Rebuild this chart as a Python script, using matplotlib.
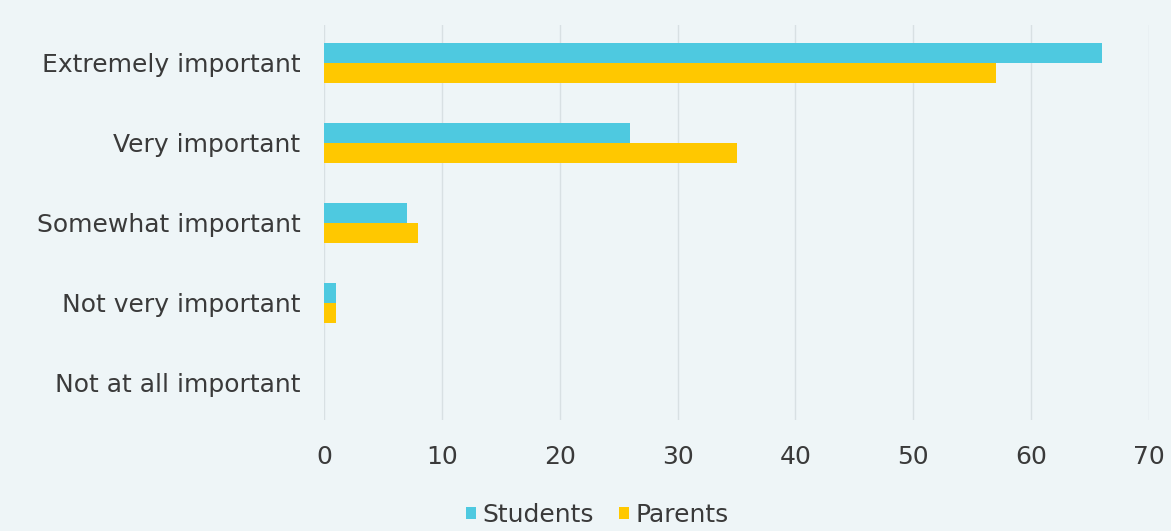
import numpy as np
import matplotlib
matplotlib.use("Agg")
from matplotlib import pyplot as plt

categories = ["Extremely important", "Very important", "Somewhat important",
              "Not very important", "Not at all important"]
students = [66, 26, 7, 1, 0]
parents = [57, 35, 8, 1, 0]
xticks = [0, 10, 20, 30, 40, 50, 60, 70]

bg = "#eef5f7"
cyan = "#4ec9e0"
yellow = "#ffc800"
text_col = "#3a3a3a"

plt.rcParams['font.family'] = ['DejaVu Sans']

fig = plt.figure(figsize=(11.71, 5.31), dpi=100, facecolor=bg)
ax = fig.add_axes([0.2767, 0.209, 0.7045, 0.744], facecolor=bg)

y = np.arange(len(categories))
h = 0.25
ax.barh(y - h / 2, students, height=h, color=cyan, label="Students", zorder=3)
ax.barh(y + h / 2, parents, height=h, color=yellow, label="Parents", zorder=3)

ax.set_xlim(0, 70)
ax.set_ylim(len(categories) - 0.53, -0.475)
ax.set_xticks(xticks)
ax.set_yticks(y)
ax.set_yticklabels(categories)
ax.grid(axis="x", color="#d8e0e3", linewidth=1, zorder=0)
for s in ax.spines.values():
    s.set_visible(False)
ax.tick_params(axis="both", length=0, labelsize=18, labelcolor=text_col)
ax.tick_params(axis="x", pad=18)
ax.tick_params(axis="y", pad=17)

leg = fig.legend(loc="lower center", bbox_to_anchor=(0.51, -0.035), ncol=2,
                 frameon=False, fontsize=18, handlelength=0.4, handleheight=0.4,
                 handletextpad=0.25, columnspacing=1.0, labelcolor=text_col)

fig.savefig("out.png", dpi=100, facecolor=bg)
